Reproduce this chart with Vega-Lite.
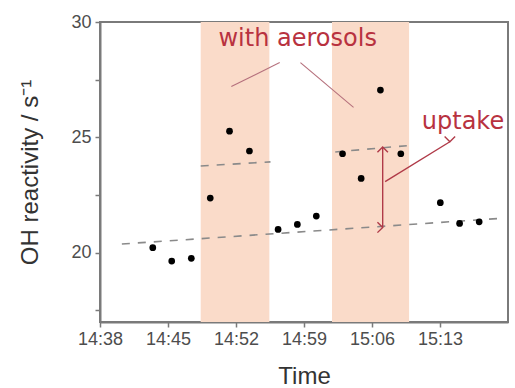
{
  "$schema": "https://vega.github.io/schema/vega-lite/v6.json",
  "width": 408,
  "height": 300,
  "autosize": {"type": "none"},
  "padding": {"left": 100, "top": 22, "right": 7, "bottom": 66},
  "background": "white",
  "datasets": {
    "points": [
      {"t": "2020-01-01T14:43:26", "v": 20.22},
      {"t": "2020-01-01T14:45:23", "v": 19.64},
      {"t": "2020-01-01T14:47:24", "v": 19.76},
      {"t": "2020-01-01T14:49:21", "v": 22.37},
      {"t": "2020-01-01T14:51:20", "v": 25.27},
      {"t": "2020-01-01T14:53:23", "v": 24.41},
      {"t": "2020-01-01T14:56:20", "v": 21.01},
      {"t": "2020-01-01T14:58:19", "v": 21.23},
      {"t": "2020-01-01T15:00:16", "v": 21.59},
      {"t": "2020-01-01T15:02:58", "v": 24.29},
      {"t": "2020-01-01T15:04:53", "v": 23.22},
      {"t": "2020-01-01T15:06:52", "v": 27.05},
      {"t": "2020-01-01T15:08:58", "v": 24.29},
      {"t": "2020-01-01T15:13:02", "v": 22.17},
      {"t": "2020-01-01T15:15:01", "v": 21.27},
      {"t": "2020-01-01T15:17:02", "v": 21.34}
    ],
    "bands": [
      {"t1": "2020-01-01T14:48:22", "t2": "2020-01-01T14:55:26"},
      {"t1": "2020-01-01T15:01:53", "t2": "2020-01-01T15:09:49"}
    ],
    "segments": [
      {"kind": "dash", "t1": "2020-01-01T14:40:15", "v1": 20.38, "t2": "2020-01-01T15:19:10", "v2": 21.49},
      {"kind": "dash", "t1": "2020-01-01T14:48:22", "v1": 23.76, "t2": "2020-01-01T14:55:33", "v2": 23.94},
      {"kind": "dash", "t1": "2020-01-01T15:02:13", "v1": 24.37, "t2": "2020-01-01T15:09:35", "v2": 24.64},
      {"kind": "pointer", "t1": "2020-01-01T14:56:30", "v1": 28.24, "t2": "2020-01-01T14:51:31", "v2": 27.2},
      {"kind": "pointer", "t1": "2020-01-01T14:58:38", "v1": 28.24, "t2": "2020-01-01T15:04:06", "v2": 26.3},
      {"kind": "arrow", "t1": "2020-01-01T15:07:06", "v1": 24.58, "t2": "2020-01-01T15:07:06", "v2": 21.1},
      {"kind": "arrow", "t1": "2020-01-01T15:07:21", "v1": 23.08, "t2": "2020-01-01T15:14:01", "v2": 24.81}
    ],
    "heads": [
      {"t": "2020-01-01T15:07:06", "v": 24.58, "dir": "up"},
      {"t": "2020-01-01T15:07:06", "v": 21.1, "dir": "down"},
      {"t": "2020-01-01T15:14:01", "v": 24.81, "dir": "diag"}
    ],
    "labels": [
      {"t": "2020-01-01T14:58:21", "v": 29.26, "text": "with aerosols"},
      {"t": "2020-01-01T15:15:22", "v": 25.68, "text": "uptake"}
    ]
  },
  "layer": [
    {
      "data": {"name": "bands"},
      "mark": {"type": "rect", "color": "#fadbc9"},
      "encoding": {
        "x": {"field": "t1", "type": "temporal",
          "scale": {"domain": [{"year": 2020, "month": 1, "date": 1, "hours": 14, "minutes": 38}, {"year": 2020, "month": 1, "date": 1, "hours": 15, "minutes": 20}]},
          "axis": {
            "title": "Time",
            "format": "%H:%M",
            "values": [
              {"year": 2020, "month": 1, "date": 1, "hours": 14, "minutes": 38},
              {"year": 2020, "month": 1, "date": 1, "hours": 14, "minutes": 42},
              {"year": 2020, "month": 1, "date": 1, "hours": 14, "minutes": 45},
              {"year": 2020, "month": 1, "date": 1, "hours": 14, "minutes": 49},
              {"year": 2020, "month": 1, "date": 1, "hours": 14, "minutes": 52},
              {"year": 2020, "month": 1, "date": 1, "hours": 14, "minutes": 56},
              {"year": 2020, "month": 1, "date": 1, "hours": 14, "minutes": 59},
              {"year": 2020, "month": 1, "date": 1, "hours": 15, "minutes": 3},
              {"year": 2020, "month": 1, "date": 1, "hours": 15, "minutes": 6},
              {"year": 2020, "month": 1, "date": 1, "hours": 15, "minutes": 10},
              {"year": 2020, "month": 1, "date": 1, "hours": 15, "minutes": 13},
              {"year": 2020, "month": 1, "date": 1, "hours": 15, "minutes": 17}
            ],
            "labelExpr": "indexof(['14:38','14:45','14:52','14:59','15:06','15:13'], datum.label) >= 0 ? datum.label : ''",
            "labelPadding": 3,
            "titleX": 204,
            "titleY": 54,
            "titleBaseline": "middle"
          }
        },
        "x2": {"field": "t2"}
      }
    },
    {
      "data": {"name": "segments"},
      "transform": [{"filter": "datum.kind === 'dash'"}],
      "mark": {"type": "rule", "color": "#8a8a8a", "strokeWidth": 1.6, "strokeDash": [8, 8]},
      "encoding": {
        "x": {"field": "t1", "type": "temporal"},
        "x2": {"field": "t2"},
        "y": {"field": "v1", "type": "quantitative",
          "scale": {"domain": [17, 30]},
          "axis": {
            "title": "OH reactivity / s⁻¹",
            "values": [17.5, 20, 22.5, 25, 27.5, 30],
            "labelExpr": "datum.value % 5 === 0 ? datum.label : ''",
            "labelPadding": 4,
            "titleX": -70,
            "titleY": 150,
            "titleBaseline": "middle"
          }
        },
        "y2": {"field": "v2"}
      }
    },
    {
      "data": {"name": "segments"},
      "transform": [{"filter": "datum.kind === 'pointer'"}],
      "mark": {"type": "rule", "color": "#b5707c", "strokeWidth": 1.1},
      "encoding": {
        "x": {"field": "t1", "type": "temporal"},
        "x2": {"field": "t2"},
        "y": {"field": "v1", "type": "quantitative"},
        "y2": {"field": "v2"}
      }
    },
    {
      "data": {"name": "segments"},
      "transform": [{"filter": "datum.kind === 'arrow'"}],
      "mark": {"type": "rule", "color": "#b03a48", "strokeWidth": 1.4},
      "encoding": {
        "x": {"field": "t1", "type": "temporal"},
        "x2": {"field": "t2"},
        "y": {"field": "v1", "type": "quantitative"},
        "y2": {"field": "v2"}
      }
    },
    {
      "data": {"name": "heads"},
      "mark": {"type": "point", "shape": "M-1,1L0,0L1,1", "filled": false, "color": "#b03a48", "strokeWidth": 1.4, "size": 110, "opacity": 1},
      "encoding": {
        "x": {"field": "t", "type": "temporal"},
        "y": {"field": "v", "type": "quantitative"},
        "angle": {"field": "dir", "type": "nominal", "scale": {"domain": ["up", "down", "diag"], "range": [0, 180, 58]}, "legend": null}
      }
    },
    {
      "data": {"name": "points"},
      "mark": {"type": "circle", "color": "#000000", "size": 45, "opacity": 1},
      "encoding": {
        "x": {"field": "t", "type": "temporal"},
        "y": {"field": "v", "type": "quantitative"}
      }
    },
    {
      "data": {"name": "labels"},
      "mark": {"type": "text", "color": "#b8323f", "font": "DejaVu Sans", "fontSize": 24, "align": "center", "baseline": "middle"},
      "encoding": {
        "x": {"field": "t", "type": "temporal"},
        "y": {"field": "v", "type": "quantitative"},
        "text": {"field": "text"}
      }
    }
  ],
  "config": {
    "view": {"stroke": "#7a7a7a", "strokeWidth": 2},
    "axis": {
      "grid": false,
      "labelFlush": false,
      "labelOverlap": false,
      "domainColor": "#7a7a7a",
      "domainWidth": 2,
      "tickColor": "#7a7a7a",
      "tickWidth": 1.5,
      "tickSize": 5,
      "labelFont": "Liberation Sans",
      "labelFontSize": 18,
      "labelColor": "#4d4d4d",
      "titleFont": "Liberation Sans",
      "titleFontSize": 24,
      "titleFontWeight": "normal",
      "titleColor": "#333333"
    }
  }
}
